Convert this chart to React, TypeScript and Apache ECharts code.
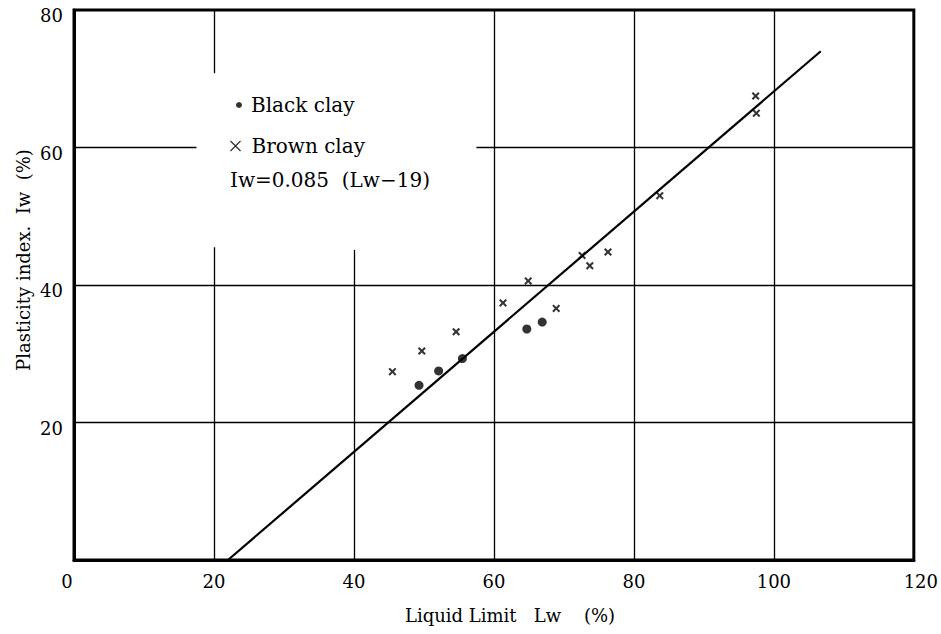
import React, { useEffect, useRef } from "react";
import * as echarts from "echarts";

// Black clay measurements (Liquid limit Lw, Plasticity index Iw)
const blackLw = [49.3, 52.1, 55.5, 64.7, 66.9];
const blackIw = [25.4, 27.5, 29.3, 33.6, 34.6];

// Brown clay measurements
const brownLw = [45.5, 49.7, 54.6, 61.3, 64.9, 68.9, 72.6, 73.7, 76.3, 83.7, 97.4, 97.5];
const brownIw = [27.4, 30.4, 33.2, 37.4, 40.6, 36.6, 44.3, 42.8, 44.8, 53.0, 67.5, 65.0];

// Fitted straight line end points
const fitLw = [22, 106.7];
const fitIw = [0, 74];

// Axis ranges / ticks
const xTicks = [0, 20, 40, 60, 80, 100, 120];
const yTicks = [0, 20, 40, 60, 80];

// Grid guide segments (data coordinates), some broken around the legend
const guideSegments: number[][][] = [
  [[20, 80], [20, 70.8]],
  [[20, 45.5], [20, 0]],
  [[40, 45.1], [40, 0]],
  [[60, 80], [60, 0]],
  [[80, 80], [80, 0]],
  [[100, 80], [100, 0]],
  [[0, 20], [120, 20]],
  [[0, 40], [120, 40]],
  [[0, 60], [17.5, 60]],
  [[57.5, 60], [120, 60]],
];

const FONT = "DejaVu Serif";
const CROSS_BOLD =
  "path://M1.8,0 L5,3.2 L8.2,0 L10,1.8 L6.8,5 L10,8.2 L8.2,10 L5,6.8 L1.8,10 L0,8.2 L3.2,5 L0,1.8 Z";
const CROSS_THIN =
  "path://M0.8,0 L5,4.2 L9.2,0 L10,0.8 L5.8,5 L10,9.2 L9.2,10 L5,5.8 L0.8,10 L0,9.2 L4.2,5 L0,0.8 Z";

export default function App() {
  const ref = useRef<HTMLDivElement>(null);

  useEffect(() => {
    if (!ref.current) return;
    const chart = echarts.init(ref.current, undefined, { renderer: "svg" });

    const blackData = blackLw.map((x, i) => [x, blackIw[i]]);
    const brownData = brownLw.map((x, i) => [x, brownIw[i]]);
    const fitData = fitLw.map((x, i) => [x, fitIw[i]]);

    const option: any = {
      animation: false,
      backgroundColor: "#ffffff",
      textStyle: { fontFamily: FONT, color: "#000" },
      grid: {
        left: 74,
        top: 10,
        right: 24,
        bottom: 74,
        show: true,
        borderColor: "#000",
        borderWidth: 3,
        backgroundColor: "transparent",
      },
      legend: [
        {
          data: ["Black clay"],
          left: 231,
          top: 90,
          icon: "circle",
          itemWidth: 14,
          itemHeight: 6,
          selectedMode: false,
          textStyle: { fontFamily: FONT, fontSize: 20, color: "#000", lineHeight: 20 },
        },
        {
          data: ["Brown clay"],
          left: 225,
          top: 131,
          icon: CROSS_THIN,
          itemWidth: 22,
          itemHeight: 11,
          selectedMode: false,
          textStyle: { fontFamily: FONT, fontSize: 20, color: "#000", lineHeight: 20 },
        },
      ],
      xAxis: {
        type: "value",
        min: xTicks[0],
        max: xTicks[xTicks.length - 1],
        interval: 20,
        axisLine: { show: true, lineStyle: { color: "#000", width: 3 } },
        axisTick: { show: false },
        splitLine: { show: false },
        axisLabel: {
          margin: 12,
          color: "#000",
          fontFamily: FONT,
          fontSize: 18,
          formatter: (v: number) =>
            v === xTicks[0] ? `{a|${v}}` : v === xTicks[xTicks.length - 1] ? `{b|${v}}` : `{c|${v}}`,
          rich: {
            a: { fontFamily: FONT, fontSize: 18, color: "#000", padding: [0, 14, 0, 0] },
            b: { fontFamily: FONT, fontSize: 18, color: "#000", padding: [0, 0, 0, 14] },
            c: { fontFamily: FONT, fontSize: 18, color: "#000" },
          },
        },
      },
      yAxis: {
        type: "value",
        min: yTicks[0],
        max: yTicks[yTicks.length - 1],
        interval: 20,
        axisLine: { show: true, lineStyle: { color: "#000", width: 3 } },
        axisTick: { show: false },
        splitLine: { show: false },
        axisLabel: {
          margin: 11,
          color: "#000",
          fontFamily: FONT,
          fontSize: 18,
          formatter: (v: number) => (v === 0 ? "" : `{y|${v}}`),
          rich: {
            y: { fontFamily: FONT, fontSize: 18, color: "#000", padding: [11, 0, 0, 0] },
          },
        },
      },
      graphic: [
        {
          type: "text",
          left: 230,
          top: 170,
          style: {
            text: "Iw=0.085  (Lw−19)",
            fontFamily: FONT,
            fontSize: 20,
            fill: "#000",
          },
          silent: true,
        },
        {
          type: "text",
          x: 510,
          y: 615,
          style: {
            text: "Liquid Limit   Lw    (%)",
            fontFamily: FONT,
            fontSize: 18,
            fill: "#000",
            align: "center",
            verticalAlign: "middle",
          },
          silent: true,
        },
        {
          type: "text",
          x: 23,
          y: 260,
          rotation: Math.PI / 2,
          style: {
            text: "Plasticity index.  Iw  (%)",
            fontFamily: FONT,
            fontSize: 18,
            fill: "#000",
            align: "center",
            verticalAlign: "middle",
          },
          silent: true,
        },
      ],
      series: [
        {
          name: "Iw=0.085 (Lw−19)",
          type: "line",
          data: fitData,
          symbol: "none",
          lineStyle: { color: "#000", width: 2.2 },
          silent: true,
          z: 3,
          markLine: {
            silent: true,
            symbol: ["none", "none"],
            label: { show: false },
            lineStyle: { color: "#000", width: 1.3, type: "solid" },
            emphasis: { disabled: true },
            data: guideSegments.map((seg) => [{ coord: seg[0] }, { coord: seg[1] }]),
          },
        },
        {
          name: "Black clay",
          type: "scatter",
          data: blackData,
          symbol: "circle",
          symbolSize: 9,
          itemStyle: { color: "#000" },
          z: 4,
        },
        {
          name: "Brown clay",
          type: "scatter",
          data: brownData,
          symbol: CROSS_BOLD,
          symbolSize: 8,
          itemStyle: { color: "#000" },
          z: 4,
        },
      ],
    };

    chart.setOption(option);
    return () => chart.dispose();
  }, []);

  return (
    <div
      ref={ref}
      style={{ position: "fixed", left: 0, top: 0, width: 941, height: 634, background: "#fff" }}
    />
  );
}
